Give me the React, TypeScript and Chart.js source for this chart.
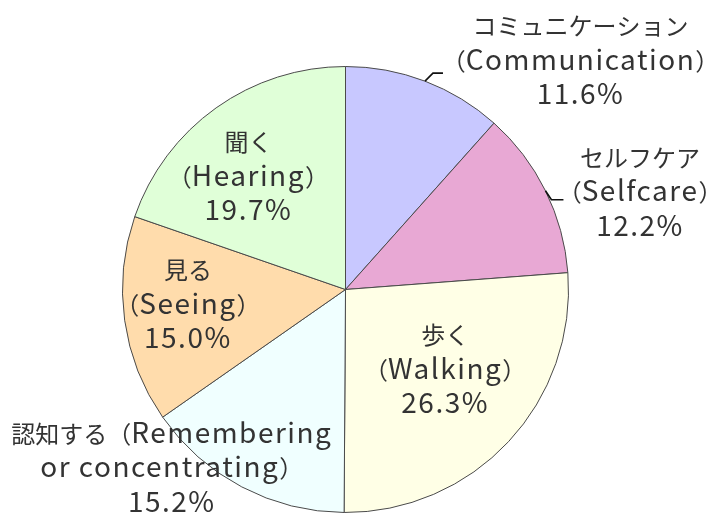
import React, { useEffect, useRef } from "react";
import { Chart, registerables } from "chart.js";

Chart.register(...registerables);

const categories = [
  "コミュニケーション\n（Communication）",
  "セルフケア\n（Selfcare）",
  "歩く\n（Walking）",
  "認知する（Remembering\nor concentrating）",
  "見る\n（Seeing）",
  "聞く\n（Hearing）",
];
const values = [11.6, 12.2, 26.3, 15.2, 15.0, 19.7];
const colors = ["#c8c8ff", "#e8a8d4", "#ffffe6", "#f0ffff", "#ffdcac", "#e0ffd8"];

// label layout: type "in" = polar(mid, frac*R) + (dx,dy); "out" = edge point + leader + text offset
const layout: any[] = [
  { type: "out", leader: [[8, -8], [18, -8]], dx: 155.5, dy: -21 },
  { type: "out", leader: [[6, 9], [18, 9]], dx: 94.6, dy: 0.8 },
  { type: "in", frac: 0.55, dx: 10, dy: -4 },
  { type: "in", frac: 1.0, dx: -70, dy: -19 },
  { type: "in", frac: 0.7, dx: -3, dy: -7 },
  { type: "in", frac: 0.65, dx: -13, dy: 5 },
];

const LATIN_FONT = '28px "Noto Sans CJK JP"';
const CJK_FONT = '24px "Noto Sans CJK JP"';
const LATIN_SPACING = "1.5px";
const LINE_H = 34.5;
const BASE_OFF = 9.5;
const TEXT_COLOR = "#333333";

function isCJK(ch: string) {
  const c = ch.charCodeAt(0);
  return (c >= 0x3000 && c <= 0x9fff) || (c >= 0xff00 && c <= 0xffef);
}

function runs(text: string) {
  const out: { t: string; cjk: boolean }[] = [];
  for (const ch of text) {
    const c = isCJK(ch);
    if (out.length && out[out.length - 1].cjk === c) out[out.length - 1].t += ch;
    else out.push({ t: ch, cjk: c });
  }
  return out;
}

function setFont(ctx: any, cjk: boolean) {
  ctx.font = cjk ? CJK_FONT : LATIN_FONT;
  ctx.letterSpacing = cjk ? "0px" : LATIN_SPACING;
}

function drawLine(ctx: CanvasRenderingContext2D, text: string, cx: number, cy: number) {
  const rs = runs(text);
  let total = 0;
  const widths = rs.map((r) => {
    setFont(ctx, r.cjk);
    const w = ctx.measureText(r.t).width;
    total += w;
    return w;
  });
  let x = cx - total / 2;
  rs.forEach((r, i) => {
    setFont(ctx, r.cjk);
    ctx.fillText(r.t, x, cy + BASE_OFF);
    x += widths[i];
  });
}

const labelPlugin = {
  id: "pieLabels",
  afterDatasetsDraw(chart: any) {
    const ctx: CanvasRenderingContext2D = chart.ctx;
    const meta = chart.getDatasetMeta(0);
    ctx.save();
    ctx.fillStyle = TEXT_COLOR;
    ctx.textAlign = "left";
    ctx.textBaseline = "alphabetic";
    meta.data.forEach((arc: any, i: number) => {
      const { x, y, startAngle, endAngle, outerRadius } = arc.getProps(
        ["x", "y", "startAngle", "endAngle", "outerRadius"],
        true
      );
      const mid = (startAngle + endAngle) / 2;
      const L = layout[i];
      let cx: number, cy: number;
      if (L.type === "out") {
        const ex = x + outerRadius * Math.cos(mid);
        const ey = y + outerRadius * Math.sin(mid);
        ctx.beginPath();
        ctx.strokeStyle = "#111111";
        ctx.lineWidth = 1.6;
        ctx.moveTo(ex, ey);
        L.leader.forEach((p: number[]) => ctx.lineTo(ex + p[0], ey + p[1]));
        ctx.stroke();
        cx = ex + L.dx;
        cy = ey + L.dy;
      } else {
        const r = outerRadius * L.frac;
        cx = x + r * Math.cos(mid) + L.dx;
        cy = y + r * Math.sin(mid) + L.dy;
      }
      const lines = categories[i].split("\n").concat([values[i].toFixed(1) + "%"]);
      const n = lines.length;
      lines.forEach((ln, k) => {
        drawLine(ctx, ln, cx, cy + (k - (n - 1) / 2) * LINE_H);
      });
    });
    ctx.restore();
  },
};

export default function App() {
  const ref = useRef<HTMLCanvasElement | null>(null);
  useEffect(() => {
    if (!ref.current) return;
    const chart = new Chart(ref.current, {
      type: "pie",
      data: {
        labels: categories,
        datasets: [
          {
            data: values,
            backgroundColor: colors,
            borderColor: "#4a4a4a",
            borderWidth: 1,
          },
        ],
      },
      options: {
        responsive: false,
        animation: false,
        layout: { padding: { left: 122, top: 66, right: 147, bottom: 5 } },
        plugins: {
          legend: { display: false },
          tooltip: { enabled: false },
        },
      },
      plugins: [labelPlugin],
    });
    return () => chart.destroy();
  }, []);
  return (
    <div style={{ position: "fixed", left: 0, top: 0, width: 716, height: 518, background: "#fff" }}>
      <canvas ref={ref} width={716} height={518} />
    </div>
  );
}
